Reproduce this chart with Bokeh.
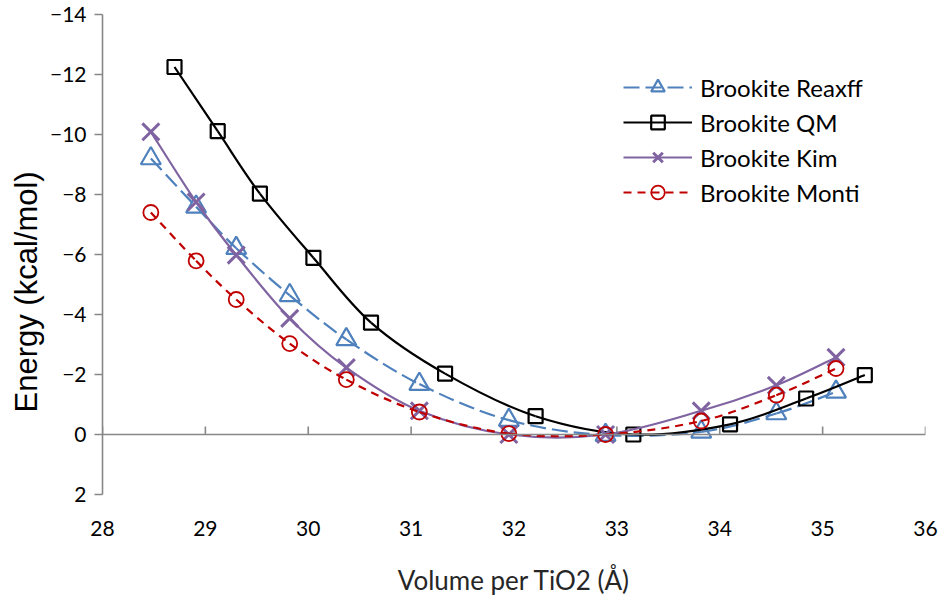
import numpy as np
from bokeh.plotting import figure
from bokeh.models import (Range1d, FixedTicker, Legend, LegendItem, Span,
                          Title, ColumnDataSource)
from bokeh.embed import file_html
from bokeh.resources import INLINE

# ---------------- data ----------------
series_names = ["Brookite Reaxff", "Brookite QM", "Brookite Kim", "Brookite Monti"]

x_reaxff = [28.47, 28.91, 29.30, 29.82, 30.37, 31.08, 31.95, 32.89, 33.82, 34.55, 35.13]
y_reaxff = [-9.20, -7.59, -6.21, -4.64, -3.17, -1.68, -0.48, 0.02, -0.09, -0.70, -1.42]

x_qm = [28.70, 29.12, 29.53, 30.05, 30.61, 31.33, 32.21, 33.16, 34.10, 34.84, 35.41]
y_qm = [-12.25, -10.11, -8.03, -5.89, -3.73, -2.03, -0.61, 0.00, -0.34, -1.20, -1.98]

x_kim = [28.47, 28.91, 29.30, 29.82, 30.37, 31.08, 31.95, 32.89, 33.82, 34.55, 35.13]
y_kim = [-10.09, -7.75, -5.98, -3.87, -2.23, -0.79, 0.00, 0.00, -0.79, -1.64, -2.57]

x_monti = [28.47, 28.91, 29.30, 29.82, 30.37, 31.08, 31.95, 32.89, 33.82, 34.55, 35.13]
y_monti = [-7.40, -5.79, -4.50, -3.03, -1.83, -0.75, -0.03, 0.00, -0.45, -1.31, -2.20]

x_ticks = [28, 29, 30, 31, 32, 33, 34, 35, 36]
y_ticks = [-14, -12, -10, -8, -6, -4, -2, 0, 2]

# ---------------- styles ----------------
AXIS_GREY = "#878787"
styles = [
    dict(color="#4F81BD", dash="16 6", marker="triangle", size=20, mlw=2.2),
    dict(color="#000000", dash="solid", marker="square", size=14, mlw=2.2),
    dict(color="#8064A2", dash="solid", marker="x", size=24, mlw=3),
    dict(color="#C00000", dash="8 6", marker="circle", size=15, mlw=1.8),
]


def bezier_source(xs, ys):
    """Excel-like smoothed line: Catmull-Rom segments expressed as cubic Beziers."""
    xs = np.asarray(xs, float)
    ys = np.asarray(ys, float)
    n = len(xs)
    i = np.arange(n - 1)
    im1 = np.clip(i - 1, 0, n - 1)
    ip2 = np.clip(i + 2, 0, n - 1)
    return ColumnDataSource(dict(
        x0=xs[i], y0=ys[i], x1=xs[i + 1], y1=ys[i + 1],
        cx0=xs[i] + (xs[i + 1] - xs[im1]) / 6.0,
        cy0=ys[i] + (ys[i + 1] - ys[im1]) / 6.0,
        cx1=xs[i + 1] - (xs[ip2] - xs[i]) / 6.0,
        cy1=ys[i + 1] - (ys[ip2] - ys[i]) / 6.0,
    ))


p = figure(width=941, height=600, x_range=Range1d(28, 36), y_range=Range1d(2, -14),
           output_backend="svg", toolbar_location=None,
           min_border_left=102, min_border_right=16, min_border_top=14, min_border_bottom=106)
p.outline_line_color = None
p.xgrid.visible = False
p.ygrid.visible = False
p.background_fill_color = "white"
p.border_fill_color = "white"

# y axis
ya = p.yaxis[0]
ya.ticker = FixedTicker(ticks=y_ticks)
ya.axis_line_color = AXIS_GREY
ya.axis_line_width = 1.6
ya.major_tick_line_color = AXIS_GREY
ya.major_tick_line_width = 1.6
ya.major_tick_out = 8
ya.major_tick_in = 0
ya.minor_tick_line_color = None
ya.major_label_text_font = "Lato"
ya.major_label_text_font_size = "21px"
ya.major_label_text_color = "black"
ya.major_label_standoff = 8

# x axis (labels only, at the bottom)
xa = p.xaxis[0]
xa.ticker = FixedTicker(ticks=x_ticks)
xa.axis_line_color = None
xa.major_tick_line_color = None
xa.minor_tick_line_color = None
xa.major_tick_out = 0
xa.major_tick_in = 0
xa.major_label_text_font = "Lato"
xa.major_label_text_font_size = "21px"
xa.major_label_text_color = "black"
xa.major_label_standoff = 26
xa.axis_label = "Volume per TiO2 (Å)"
xa.axis_label_text_font = "Lato"
xa.axis_label_text_font_size = "26px"
xa.axis_label_text_font_style = "normal"
xa.axis_label_text_color = "#262626"
xa.axis_label_standoff = 25

# horizontal axis line crossing at zero, with tick marks pointing upward
p.add_layout(Span(location=0, dimension="width", line_color=AXIS_GREY, line_width=1.6))
p.ray(x=x_ticks, y=[0] * len(x_ticks), length=8, length_units="screen",
      angle=np.pi / 2, line_color=AXIS_GREY, line_width=1.6)

# y axis title
p.add_layout(Title(text="Energy (kcal/mol)", align="left", offset=82,
                   text_font="Liberation Sans", text_font_size="31px",
                   text_font_style="normal", text_color="black", standoff=6), "left")

series = [(x_reaxff, y_reaxff), (x_qm, y_qm), (x_kim, y_kim), (x_monti, y_monti)]
items = []
for name, (xs, ys), st in zip(series_names, series, styles):
    bz = p.bezier(x0="x0", y0="y0", x1="x1", y1="y1", cx0="cx0", cy0="cy0",
                  cx1="cx1", cy1="cy1", source=bezier_source(xs, ys),
                  line_color=st["color"], line_width=2.2, line_dash=st["dash"])
    sc = p.scatter(xs, ys, marker=st["marker"], size=st["size"],
                   line_color=st["color"], line_width=st["mlw"],
                   fill_alpha=0)
    items.append(LegendItem(label=name, renderers=[bz, sc]))

legend = Legend(items=items, location=(521, 285), border_line_color=None,
                background_fill_alpha=0, padding=0, margin=0,
                glyph_width=69, glyph_height=34, label_height=34, spacing=1,
                label_standoff=8, label_text_font="Lato", label_text_font_size="24px",
                label_text_color="black")
p.add_layout(legend)

open("out.html", "w").write(file_html(p, INLINE))
